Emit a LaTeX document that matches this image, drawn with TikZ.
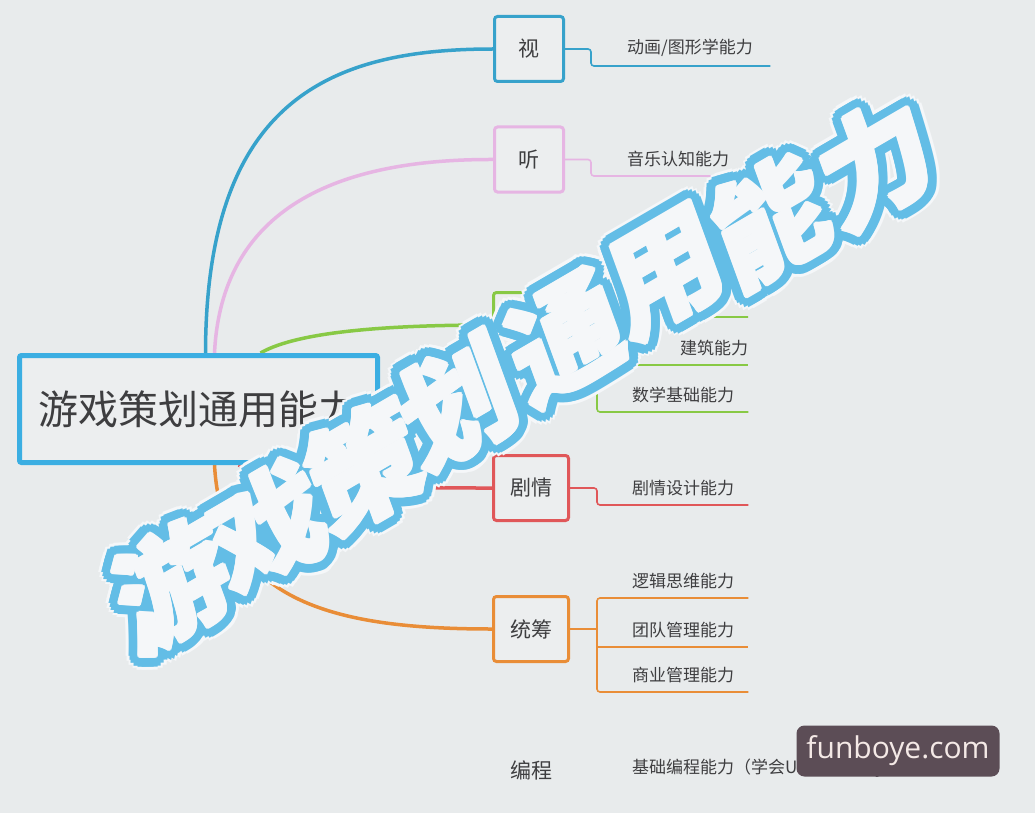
\documentclass[tikz,border=0pt]{standalone}
\usepackage{fontspec}
\usetikzlibrary{positioning,calc}
\newfontfamily\cjk{Noto Sans CJK SC}
\newfontfamily\wmfont{Open Sans}
\definecolor{paper}{HTML}{E8EBEC}
\definecolor{boxfill}{HTML}{ECEEEF}
\definecolor{ink}{HTML}{3E3E40}
\definecolor{rootblue}{HTML}{3BAEE2}
\definecolor{visblue}{HTML}{37A2CB}
\definecolor{audpink}{HTML}{E6B5E3}
\definecolor{spcgreen}{HTML}{88C945}
\definecolor{plotred}{HTML}{E05759}
\definecolor{planorange}{HTML}{E98D37}
\definecolor{stampblue}{HTML}{63BDE6}
\definecolor{stampwhite}{HTML}{F5F7F9}
\definecolor{wmgray}{HTML}{5C4D56}
\definecolor{wmtext}{HTML}{F4E9E6}
\pgfdeclarelayer{back}
\pgfdeclarelayer{stamp}
\pgfsetlayers{back,main,stamp}
\tikzset{
        x=1pt, y=-1pt, % one unit per pixel, y runs downwards
        line cap=round,
        branch/.style={line width=3.5pt}, % curves from the root to the topics
        twig/.style={line width=1.6pt, rounded corners=3pt}, % thin lines under the leaves
    }
\tikzstyle{root}=[draw=rootblue,line width=5pt,fill=boxfill,rounded corners=2pt,minimum width=358pt,minimum height=107pt,font=\cjk\fontsize{40}{40}\selectfont,text=ink]
\tikzstyle{topic}=[line width=3pt,fill=boxfill,rounded corners=3pt,minimum width=69pt,minimum height=65pt,font=\cjk\fontsize{21}{21}\selectfont,text=ink]
\tikzstyle{leaf}=[font=\cjk\fontsize{17}{17}\selectfont,text=ink,inner xsep=0pt,inner ysep=9pt,anchor=south west,align=left,text width=116pt]
\tikzstyle{stamp}=[font=\cjk\bfseries\fontsize{116}{116}\selectfont,rotate=20,yslant=0.18,inner sep=0pt]
\tikzstyle{wmark}=[fill=wmgray,rounded corners=8pt,minimum width=203pt,minimum height=51pt,text=wmtext,font=\wmfont\fontsize{30}{30}\selectfont]
\newcommand\stampchars{游/172/585,戏/268/528,策/364/467,划/458/403,通/566/338,用/666/273,能/770/220,力/876/163}

\begin{document}
\begin{tikzpicture}
    \begin{pgfonlayer}{back}
        \fill[paper] (0,0) rectangle (1035,813);
    \end{pgfonlayer}
    \useasboundingbox (0,0) rectangle (1035,813);

    \node[root] (root) at (198.5,409) {游戏策划通用能力};
    \node[topic,draw=visblue] (vis) at (529,49) {视};
    \node[topic,draw=audpink] (aud) at (529,159.5) {听};
    \node[topic,draw=spcgreen,minimum width=75pt] (spc) at (531,325) {};
    \node[topic,draw=plotred,minimum width=75pt] (plot) at (531,488) {剧情};
    \node[topic,draw=planorange,minimum width=75pt] (plan) at (531,629) {统筹};
    \node[topic,draw=none,fill=none,minimum width=75pt] (code) at (531,770) {编程};

    \node[leaf,text width=143pt] (vis1) at (627,66) {动画/图形学能力};
    \node[leaf,text width=123pt] (aud1) at (627,176) {音乐认知能力};
    \coordinate (spc1) at (748,317);
    \node[leaf,align=right,text width=103pt] (spc2) at (645,365) {建筑能力};
    \node[leaf] (spc3) at (632,412) {数学基础能力};
    \node[leaf] (plot1) at (632,505) {剧情设计能力};
    \node[leaf] (plan1) at (632,598) {逻辑思维能力};
    \node[leaf] (plan2) at (632,647) {团队管理能力};
    \node[leaf] (plan3) at (632,692) {商业管理能力};
    \node[leaf,text width=370pt] (code1) at (632,787) {基础编程能力（学会UE或者Unity等游戏引擎）};

    \begin{pgfonlayer}{back}
        \draw[branch,visblue] ([xshift=7pt]root.north) .. controls (206,100) and (330,49) .. (vis.west);
        \draw[branch,audpink] ([xshift=16pt]root.north) .. controls (222,200) and (350,159) .. (aud.west);
        \draw[branch,spcgreen] ([xshift=62pt]root.north) .. controls (300,330) and (400,325) .. (spc.west);
        \draw[branch,plotred] ([xshift=40pt]root.south) .. controls (300,488) and (400,488) .. (plot.west);
        \draw[branch,planorange] ([xshift=16pt]root.south) .. controls (222,600) and (330,629) .. (plan.west);
    \end{pgfonlayer}

    \draw[twig,visblue] (vis.east) -- ++(26,0) |- (vis1.south east);
    \draw[twig,audpink] (aud.east) -- ++(26,0) |- (aud1.south east);
    \draw[twig,spcgreen] (spc.east) -- ++(27,0) coordinate (spcb);
    \draw[twig,spcgreen] (spc1) -- (spc1 -| spcb) -- (spc3.south east -| spcb) -- (spc3.south east);
    \draw[twig,spcgreen] (spc2.south east -| spcb) -- (spc2.south east);
    \draw[twig,plotred] (plot.east) -- ++(27,0) |- (plot1.south east);
    \draw[twig,planorange] (plan.east) -- ++(27,0) coordinate (planb);
    \draw[twig,planorange] (plan1.south east) -- (plan1.south east -| planb) -- (plan3.south east -| planb) -- (plan3.south east);
    \draw[twig,planorange] (plan2.south east -| planb) -- (plan2.south east);

    \begin{pgfonlayer}{stamp}
        \foreach \c/\px/\py in \stampchars
            \foreach \a in {0,20,...,340}
                \node[stamp,text=stampwhite] at ($(\px,\py)+(\a:14pt)$) {\c};
        \foreach \c/\px/\py in \stampchars
            \foreach \r in {5,11}
                \foreach \a in {0,20,...,340}
                    \node[stamp,text=stampblue] at ($(\px,\py)+(\a:\r pt)$) {\c};
        \foreach \c/\px/\py in \stampchars
            \foreach \a in {0,30,...,330}
                \node[stamp,text=stampwhite] at ($(\px,\py)+(\a:2pt)$) {\c};
        \foreach \c/\px/\py [count=\i] in \stampchars
            \node[stamp,text=stampwhite] (s\i) at (\px,\py) {\c};
        \node[wmark] (wm) at (898,751) {funboye.com};
    \end{pgfonlayer}
\end{tikzpicture}
\end{document}
